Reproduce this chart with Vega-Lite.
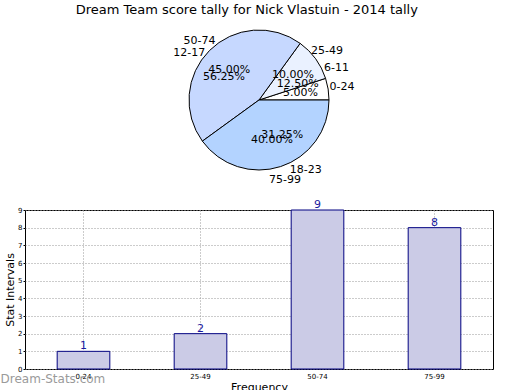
{
  "$schema": "https://vega.github.io/schema/vega-lite/v6.json",
  "padding": {"left": 0, "top": 4, "right": 27, "bottom": 0},
  "background": "white",
  "title": {"text": "Dream Team score tally for Nick Vlastuin - 2014 tally", "font": "DejaVu Sans", "fontSize": 13, "fontWeight": "normal", "color": "#000", "anchor": "middle", "offset": 8},
  "datasets": {
    "scores": [
      {"interval": "0-24", "lo": 0, "count": 1, "share": 0.05},
      {"interval": "25-49", "lo": 25, "count": 2, "share": 0.10},
      {"interval": "50-74", "lo": 50, "count": 9, "share": 0.45},
      {"interval": "75-99", "lo": 75, "count": 8, "share": 0.40}
    ],
    "stats": [
      {"interval": "6-11", "lo": 6, "share": 0.125},
      {"interval": "12-17", "lo": 12, "share": 0.5625},
      {"interval": "18-23", "lo": 18, "share": 0.3125}
    ]
  },
  "config": {
    "font": "DejaVu Sans",
    "view": {"stroke": null}
  },
  "spacing": 13,
  "vconcat": [
    {
      "width": 468,
      "height": 150,
      "layer": [
        {
          "data": {"name": "scores"},
          "mark": {"type": "arc", "outerRadius": 70, "stroke": "#000", "strokeWidth": 1},
          "encoding": {
            "theta": {"field": "share", "type": "quantitative", "stack": true, "scale": {"domain": [0, 1], "range": [1.5707963, -4.712389]}},
            "order": {"field": "lo", "type": "quantitative"},
            "color": {"field": "interval", "type": "nominal", "legend": null,
              "scale": {"domain": ["0-24", "25-49", "50-74", "75-99"], "range": ["#ffffff", "#eaf1ff", "#c6d8ff", "#b3d3ff"]}}
          }
        },
        {
          "data": {"name": "scores"},
          "mark": {"type": "text", "radius": 84, "fontSize": 11, "color": "#000"},
          "encoding": {
            "theta": {"field": "share", "type": "quantitative", "stack": true},
            "order": {"field": "lo", "type": "quantitative"},
            "text": {"field": "interval"}
          }
        },
        {
          "data": {"name": "scores"},
          "mark": {"type": "text", "radius": 42, "fontSize": 11, "color": "#000"},
          "encoding": {
            "theta": {"field": "share", "type": "quantitative", "stack": true},
            "order": {"field": "lo", "type": "quantitative"},
            "text": {"field": "share", "type": "quantitative", "format": ".2%"}
          }
        },
        {
          "data": {"name": "stats"},
          "mark": {"type": "text", "radius": 84, "fontSize": 11, "color": "#000"},
          "encoding": {
            "theta": {"field": "share", "type": "quantitative", "stack": true},
            "order": {"field": "lo", "type": "quantitative"},
            "text": {"field": "interval"}
          }
        },
        {
          "data": {"name": "stats"},
          "mark": {"type": "text", "radius": 42, "fontSize": 11, "color": "#000"},
          "encoding": {
            "theta": {"field": "share", "type": "quantitative", "stack": true},
            "order": {"field": "lo", "type": "quantitative"},
            "text": {"field": "share", "type": "quantitative", "format": ".2%"}
          }
        }
      ]
    },
    {
      "width": 468,
      "height": 159,
      "view": {"stroke": "#000", "strokeWidth": 1},
      "data": {"name": "scores"},
      "title": {"text": "Dream-Stats.com", "orient": "bottom", "anchor": "start", "dx": -4, "dy": -18, "color": "#9a9a9a", "fontSize": 12, "fontWeight": "normal", "offset": 0},
      "encoding": {
        "x": {"field": "interval", "type": "nominal", "sort": null,
          "scale": {"paddingInner": 0.55, "paddingOuter": 0.275},
          "axis": {"title": "Frequency", "titleFontSize": 11, "titleFontWeight": "normal", "titlePadding": 2, "labelAngle": 0, "labelFontSize": 7, "labelColor": "#000", "domain": false, "ticks": false, "labelPadding": 3, "grid": true, "gridDash": [1, 2], "gridColor": "#999", "gridOpacity": 1, "bandPosition": 0.5}},
        "y": {"field": "count", "type": "quantitative", "scale": {"domain": [0, 9], "nice": false},
          "axis": {"title": "Stat Intervals", "titleFontSize": 11, "titleFontWeight": "normal", "titlePadding": 2, "values": [0, 1, 2, 3, 4, 5, 6, 7, 8, 9], "labelOverlap": false, "labelFontSize": 7, "labelColor": "#000", "labelPadding": 1, "domain": false, "tickSize": 2, "tickColor": "#000", "grid": true, "gridDash": [1, 2], "gridColor": "#999", "gridOpacity": 1}}
      },
      "layer": [
        {
          "mark": {"type": "bar", "fill": "#cbcbe6", "stroke": "#000080", "strokeWidth": 1}
        },
        {
          "mark": {"type": "text", "baseline": "bottom", "dy": 0, "fontSize": 11, "color": "#1a1aa0"},
          "encoding": {
            "text": {"field": "count", "type": "quantitative"}
          }
        }
      ]
    }
  ]
}
